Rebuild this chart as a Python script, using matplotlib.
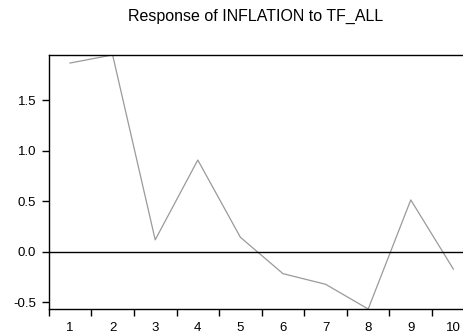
import matplotlib
matplotlib.use("Agg")
import matplotlib.pyplot as plt
import numpy as np

plt.rcParams['font.family'] = ['Liberation Sans', 'DejaVu Sans']

# impulse response, periods 1..10
periods = [1, 2, 3, 4, 5, 6, 7, 8, 9, 10]
response = [1.87, 1.95, 0.12, 0.91, 0.145, -0.215, -0.32, -0.565, 0.515, -0.17]
yticks = [-0.5, 0.0, 0.5, 1.0, 1.5]

fig = plt.figure(figsize=(4.64, 3.33), dpi=100)
ax = fig.add_axes([0.105, 0.072, 0.918, 0.763])

ax.plot(periods, response, color='#9a9a9a', lw=0.9)
ax.axhline(0, color='black', lw=1.0)

ax.set_xlim(0.5, 10.5)
ax.set_ylim(-0.565, 1.95)

ax.set_yticks(yticks)
ax.set_yticklabels([f"{v:.1f}" for v in yticks])
ax.set_xticks(periods)
ax.set_xticklabels([str(p) for p in periods])
ax.set_xticks(np.arange(0.5, 11, 1.0), minor=True)
ax.tick_params(axis='x', which='major', length=0, pad=9, labelsize=9.5)
ax.tick_params(axis='x', which='minor', length=5, width=1, direction='out')
ax.tick_params(axis='y', length=5, width=1, direction='out', labelsize=9.5, pad=4)

for s in ['left', 'top', 'bottom']:
    ax.spines[s].set_linewidth(1.0)
ax.spines['right'].set_visible(False)

fig.text(0.55, 0.952, "Response of INFLATION to TF_ALL", ha='center', va='center', fontsize=11.5)

fig.savefig("out.png", dpi=100)
